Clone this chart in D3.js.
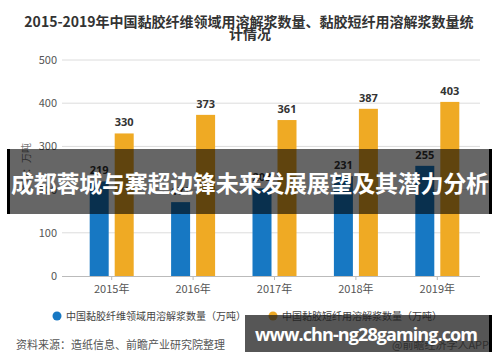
<!DOCTYPE html>
<html>
<head>
<meta charset="utf-8">
<script src="https://cdn.jsdelivr.net/npm/d3@7/dist/d3.min.js"></script>
<style>
  body { margin: 0; background: #fff; }
  svg { display: block; font-family: "Noto Sans CJK SC", "Noto Sans", sans-serif; }
</style>
</head>
<body>
<div id="chart"></div>
<script>
var years = ["2015年", "2016年", "2017年", "2018年", "2019年"];
var fiberValues = [219, 171, 203, 231, 255];   // 中国黏胶纤维领域用溶解浆数量
var staleValues = [330, 373, 361, 387, 403];   // 中国黏胶短纤用溶解浆数量
var yTicks = [0, 100, 200, 300, 400, 500];
var seriesNames = ["中国黏胶纤维领域用溶解浆数量（万吨）", "中国黏胶短纤用溶解浆数量（万吨）"];
var colors = ["#1778c3", "#efaa24"];

var svgWidth = 500;
var svgHeight = 362;

var svg = d3.select("#chart")
  .append("svg")
  .attr("width", svgWidth)
  .attr("height", svgHeight);

// title, wrapped in two lines
var title = svg.append("text")
  .attr("text-anchor", "middle")
  .attr("font-size", "14px")
  .attr("font-weight", "bold")
  .attr("fill", "#333");
title.append("tspan").attr("x", 249).attr("y", 27)
  .text("2015-2019年中国黏胶纤维领域用溶解浆数量、黏胶短纤用溶解浆数量统");
title.append("tspan").attr("x", 250).attr("y", 39).text("计情况");

// scales
var x0 = d3.scaleBand()
  .domain(years)
  .range([71, 478])
  .paddingInner(0.5)
  .paddingOuter(0.25);

var x1 = d3.scaleBand()
  .domain([0, 1])
  .range([0, 44])
  .paddingInner(0.24);

var y = d3.scaleLinear()
  .domain([0, 500])
  .range([276, 60]);

// gridlines + y labels
var grid = svg.append("g");
grid.selectAll("line")
  .data(yTicks.slice(1))
  .enter()
  .append("line")
  .attr("x1", 62)
  .attr("x2", 480)
  .attr("y1", d => y(d))
  .attr("y2", d => y(d))
  .attr("stroke", "#dcdcdc")
  .attr("stroke-width", 1);

grid.selectAll("text")
  .data(yTicks)
  .enter()
  .append("text")
  .attr("x", 57)
  .attr("y", d => y(d) + 4)
  .attr("text-anchor", "end")
  .attr("font-size", "11px")
  .attr("fill", "#555")
  .text(d => d);

// x axis
var xAxis = svg.append("g")
  .attr("transform", `translate(0, ${y(0)})`)
  .call(d3.axisBottom(x0).tickSize(4).tickSizeOuter(0));
xAxis.select(".domain").attr("stroke", "#bbb").attr("d", "M62,0.5H480");
xAxis.selectAll(".tick line").attr("stroke", "#bbb");
xAxis.selectAll(".tick text")
  .attr("font-size", "11px")
  .attr("fill", "#555")
  .attr("font-family", "\"Noto Sans CJK SC\", sans-serif")
  .attr("dy", "0.9em");

// y unit label
svg.append("text")
  .attr("transform", "translate(30, 168) rotate(-90)")
  .attr("text-anchor", "middle")
  .attr("font-size", "10px")
  .attr("fill", "#777")
  .text("单位：万吨");

// bars
var rows = years.map((yr, i) => ({ year: yr, vals: [fiberValues[i], staleValues[i]] }));

var groups = svg.selectAll(".yearGroup")
  .data(rows)
  .enter()
  .append("g")
  .attr("class", "yearGroup")
  .attr("transform", d => `translate(${x0(d.year) + x0.bandwidth() / 2 - 22}, 0)`);

groups.selectAll("rect")
  .data(d => d.vals)
  .enter()
  .append("rect")
  .attr("x", (d, i) => x1(i))
  .attr("width", x1.bandwidth())
  .attr("y", d => y(d))
  .attr("height", d => y(0) - y(d))
  .attr("fill", (d, i) => colors[i]);

groups.selectAll(".valLabel")
  .data(d => d.vals)
  .enter()
  .append("text")
  .attr("class", "valLabel")
  .attr("x", (d, i) => x1(i) + x1.bandwidth() / 2)
  .attr("y", d => y(d) - 7)
  .attr("text-anchor", "middle")
  .attr("font-size", "11px")
  .attr("font-weight", "bold")
  .attr("fill", "#333")
  .attr("font-family", "\"Open Sans\", sans-serif")
  .text(d => d);

// legend
var legendX = [57, 273];
var legend = svg.selectAll(".legendItem")
  .data(seriesNames)
  .enter()
  .append("g")
  .attr("class", "legendItem")
  .attr("transform", (d, i) => `translate(${legendX[i]}, 316)`);
legend.append("circle")
  .attr("r", 4.5)
  .attr("fill", (d, i) => colors[i]);
legend.append("text")
  .attr("x", 9)
  .attr("y", 4)
  .attr("font-size", "10px")
  .attr("fill", "#444")
  .text(d => d);

// source
svg.append("text")
  .attr("x", 16)
  .attr("y", 349)
  .attr("font-size", "11px")
  .attr("fill", "#555")
  .text("资料来源：造纸信息、前瞻产业研究院整理");
svg.append("text")
  .attr("x", 392)
  .attr("y", 349)
  .attr("font-size", "11px")
  .attr("fill", "#666")
  .text("@前瞻经济学人APP");

// overlay banner
svg.append("rect")
  .attr("x", 8).attr("y", 149)
  .attr("width", 484).attr("height", 65)
  .attr("fill", "rgba(0,0,0,0.6)");
svg.append("rect")
  .attr("x", 7).attr("y", 149).attr("width", 3).attr("height", 65)
  .attr("fill", "#000");
svg.append("rect")
  .attr("x", 489).attr("y", 149).attr("width", 3).attr("height", 65)
  .attr("fill", "#000");
svg.append("text")
  .attr("x", 250)
  .attr("y", 192)
  .attr("text-anchor", "middle")
  .attr("font-size", "23px")
  .attr("font-weight", "bold")
  .attr("fill", "#fff")
  .attr("textLength", 478)
  .text("成都蓉城与塞超边锋未来发展展望及其潜力分析");

// url box
svg.append("rect")
  .attr("x", 245).attr("y", 315)
  .attr("width", 247).attr("height", 37)
  .attr("fill", "rgba(30,30,30,0.75)");
svg.append("rect")
  .attr("x", 489).attr("y", 315).attr("width", 3).attr("height", 37)
  .attr("fill", "#000");
svg.append("text")
  .attr("x", 255)
  .attr("y", 341)
  .attr("font-size", "18px")
  .attr("font-weight", "bold")
  .attr("fill", "#fff")
  .attr("font-family", "\"Open Sans\", sans-serif")
  .attr("textLength", 223)
  .text("www.chn-ng28gaming.com");
</script>
</body>
</html>
